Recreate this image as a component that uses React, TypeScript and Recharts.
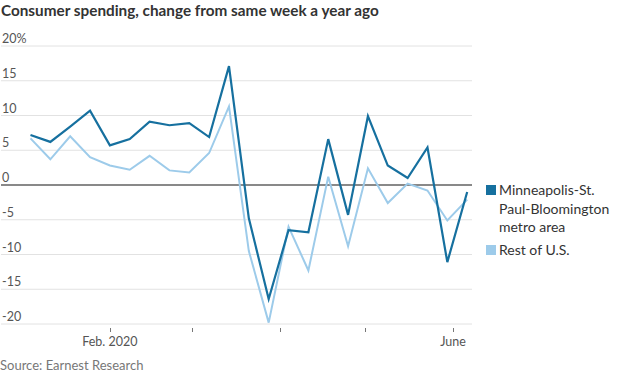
import { LineChart, Line, XAxis, YAxis, CartesianGrid, ReferenceLine } from "recharts";

const weeks = [
  "2020-01-04", "2020-01-11", "2020-01-18", "2020-01-25", "2020-02-01", "2020-02-08",
  "2020-02-15", "2020-02-22", "2020-02-29", "2020-03-07", "2020-03-14", "2020-03-21",
  "2020-03-28", "2020-04-04", "2020-04-11", "2020-04-18", "2020-04-25", "2020-05-02",
  "2020-05-09", "2020-05-16", "2020-05-23", "2020-05-30", "2020-06-06",
];
const minneapolis = [
  7.2, 6.2, 8.4, 10.7, 5.7, 6.6, 9.1, 8.6, 8.9, 6.9, 17.1, -4.8,
  -16.4, -6.5, -6.8, 6.6, -4.3, 9.9, 2.8, 1.0, 5.4, -11.1, -1.0,
];
const restOfUS = [
  6.7, 3.7, 7.0, 4.0, 2.8, 2.2, 4.2, 2.1, 1.8, 4.6, 11.3, -9.5,
  -19.8, -6.0, -12.3, 1.2, -8.8, 2.4, -2.6, 0.2, -0.8, -5.1, -2.1,
];
const yTicks = [-20, -15, -10, -5, 0, 5, 10, 15, 20];
const monthTicks = ["2020-02-01", "2020-03-01", "2020-04-01", "2020-05-01", "2020-06-01"];
const monthLabels: Record<string, string> = { "2020-02-01": "Feb. 2020", "2020-06-01": "June" };

const DAY = 86400000;
const ts = (d: string) => Date.parse(d + "T00:00:00Z");

const data = weeks.map((w, i) => ({ t: ts(w), msp: minneapolis[i], us: restOfUS[i] }));
const xDomain = [ts("2020-02-01") - 38.4 * DAY, ts("2020-06-01") + 6.7 * DAY];

const DARK = "#16709f";
const LIGHT = "#9dcbea";
const FONT = "Lato, 'Noto Sans', sans-serif";

function YTick({ y, payload }: any) {
  const v = payload.value;
  return (
    <text x={2} y={y - 3} fontSize={12.5} fill="#555" fontFamily={FONT}>
      {v === 20 ? "20%" : String(v)}
    </text>
  );
}

function XTick({ x, payload }: any) {
  const key = new Date(payload.value).toISOString().slice(0, 10);
  const label = monthLabels[key];
  const px = Math.round(x) + 0.5;
  return (
    <g>
      <line x1={px} x2={px} y1={328} y2={332} stroke="#777" strokeWidth={1} />
      {label && (
        <text x={x} y={346} textAnchor="middle" fontSize={12.5} fill="#555" fontFamily={FONT}>
          {label}
        </text>
      )}
    </g>
  );
}

export default function App() {
  return (
    <div style={{ position: "absolute", left: 0, top: 0, width: 620, height: 375, background: "#fff", fontFamily: FONT }}>
      <div style={{ position: "absolute", left: 1, top: 1, fontSize: 15.3, fontWeight: 700, color: "#333", whiteSpace: "nowrap" }}>
        Consumer spending, change from same week a year ago
      </div>
      <LineChart
        width={620}
        height={375}
        data={data}
        margin={{ top: 46, right: 148, bottom: 31, left: 0 }}
      >
        <CartesianGrid vertical={false} stroke="#e2e2e2" />
        <XAxis
          dataKey="t"
          type="number"
          scale="time"
          domain={xDomain}
          ticks={monthTicks.map(ts)}
          tick={<XTick />}
          axisLine={false}
          tickLine={false}
          height={20}
          interval={0}
          allowDataOverflow
        />
        <YAxis
          type="number"
          domain={[-20, 20]}
          ticks={yTicks}
          tick={<YTick />}
          axisLine={false}
          tickLine={false}
          interval={0}
          width={1}
        />
        <ReferenceLine y={0} stroke="#222" strokeWidth={1.2} />
        <Line dataKey="us" stroke={LIGHT} strokeWidth={2} dot={false} isAnimationActive={false} />
        <Line dataKey="msp" stroke={DARK} strokeWidth={2.2} dot={false} isAnimationActive={false} />
      </LineChart>
      <div style={{ position: "absolute", left: 486, top: 181, width: 134, fontSize: 14, lineHeight: "18.5px", color: "#333" }}>
        <div style={{ display: "flex" }}>
          <span style={{ width: 10, height: 10, background: DARK, marginTop: 4, marginRight: 3, flexShrink: 0 }} />
          <span>Minneapolis-St. Paul-Bloomington metro area</span>
        </div>
        <div style={{ display: "flex", marginTop: 4 }}>
          <span style={{ width: 10, height: 10, background: LIGHT, marginTop: 4, marginRight: 3, flexShrink: 0 }} />
          <span>Rest of U.S.</span>
        </div>
      </div>
      <div style={{ position: "absolute", left: 0, top: 357, fontSize: 13, color: "#777" }}>
        Source: Earnest Research
      </div>
    </div>
  );
}
